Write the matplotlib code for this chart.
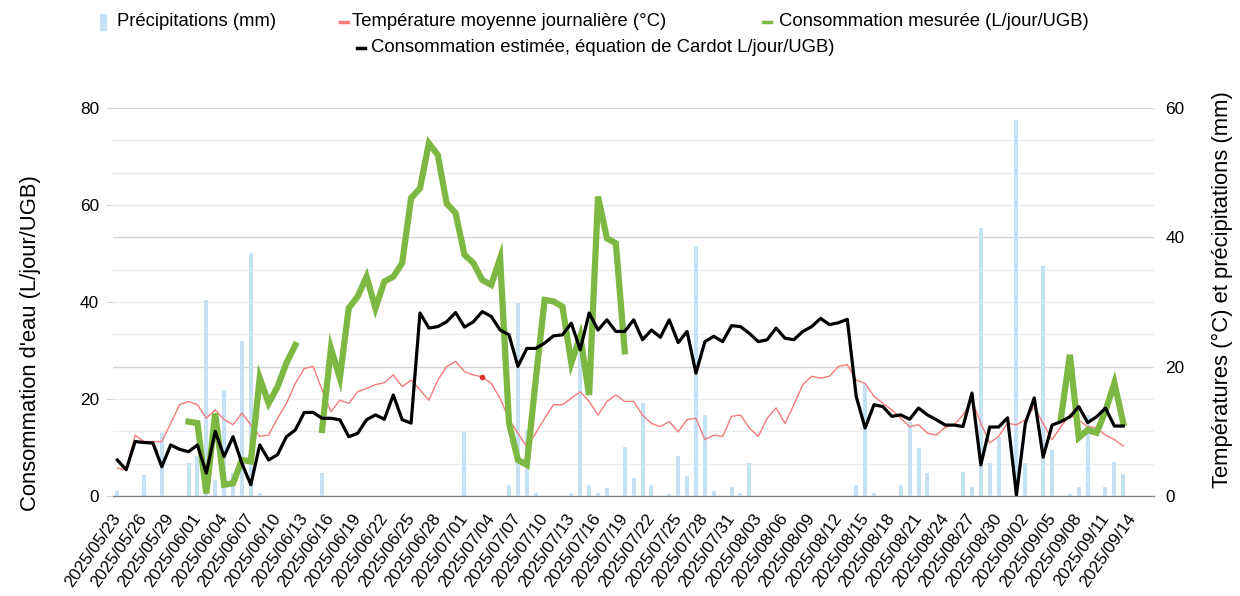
import numpy as np
import pandas as pd
import matplotlib.pyplot as plt
from matplotlib.lines import Line2D
from matplotlib.patches import Rectangle

plt.rcParams['font.family'] = ['Liberation Sans', 'DejaVu Sans']

# daily categories, 2025/05/23 .. 2025/09/16 (data stop at 09/13)
dates = pd.date_range('2025-05-23', '2025-09-16', freq='D')
labels = [d.strftime('%Y/%m/%d') for d in dates]

# estimated consumption (Cardot equation), L/jour/UGB
cons_est = [7.4, 5.4, 11.2, 11.0, 10.9, 6.0, 10.5, 9.6, 9.1, 10.5,
            4.7, 13.3, 8.1, 12.2, 6.7, 2.3, 10.5, 7.4, 8.5, 12.2,
            13.6, 17.2, 17.2, 16.0, 16.0, 15.7, 12.2, 12.9, 15.7, 16.7,
            15.8, 20.8, 15.7, 15.0, 37.7, 34.6, 34.9, 35.9, 37.8, 34.8,
            35.9, 38.0, 37.0, 34.2, 33.2, 26.7, 30.4, 30.4, 31.5, 33.0,
            33.2, 35.6, 30.1, 37.7, 34.2, 36.3, 33.9, 33.9, 36.3, 32.2,
            34.2, 32.7, 36.3, 31.6, 33.9, 25.3, 31.8, 32.9, 31.8, 35.1,
            34.9, 33.5, 31.8, 32.2, 34.6, 32.5, 32.2, 33.9, 34.9, 36.6,
            35.3, 35.7, 36.4, 20.5, 14.0, 18.8, 18.4, 16.4, 16.7, 15.8,
            18.1, 16.7, 15.7, 14.6, 14.6, 14.3, 21.2, 6.4, 14.2, 14.2,
            16.1, 0.2, 15.0, 20.2, 8.0, 14.6, 15.3, 16.3, 18.4, 15.1,
            16.3, 18.1, 14.4, 14.4]

# measured consumption, L/jour/UGB (NaN = no measure)
nan = np.nan
cons_mes = [nan, nan, nan, nan, nan, nan, nan, nan, 15.3, 15.0,
            0.5, 17.0, 2.3, 2.6, 7.4, 7.1, 24.3, 19.1, 22.5, 27.4,
            31.1, nan, nan, 13.6, 30.4, 24.3, 38.7, 41.1, 45.2, 38.7,
            44.2, 45.2, 48.0, 61.4, 63.4, 72.7, 70.3, 60.3, 58.3, 49.7,
            48.0, 44.5, 43.5, 49.0, 15.0, 7.4, 6.4, 23.9, 40.4, 40.1,
            39.0, 27.4, 32.9, 20.8, 61.7, 53.1, 52.1, 29.8, nan, nan,
            nan, nan, nan, nan, nan, nan, nan, nan, nan, nan,
            nan, nan, nan, nan, nan, nan, nan, nan, nan, nan,
            nan, nan, nan, nan, nan, nan, nan, nan, nan, nan,
            nan, nan, nan, nan, nan, nan, nan, nan, nan, nan,
            nan, nan, nan, nan, nan, nan, 16.0, 29.1, 12.0, 13.6,
            13.0, 17.5, 23.3, 15.0]

# mean daily temperature, °C
temp = [4.3, 4.0, 9.4, 8.4, 8.4, 8.4, 11.2, 14.1, 14.6, 14.1,
        12.0, 13.3, 11.8, 11.0, 12.8, 11.0, 9.2, 9.4, 12.0, 14.3,
        17.4, 19.7, 20.0, 16.4, 13.0, 14.8, 14.3, 16.1, 16.6, 17.2,
        17.5, 18.7, 16.9, 17.9, 16.4, 14.8, 17.9, 20.0, 20.8, 19.2,
        18.7, 18.4, 17.4, 15.1, 11.8, 9.7, 7.6, 9.7, 12.0, 14.1,
        14.1, 15.1, 16.1, 14.6, 12.5, 14.6, 15.6, 14.6, 14.6, 12.5,
        11.2, 10.7, 11.5, 9.9, 11.8, 12.0, 8.7, 9.4, 9.2, 12.3,
        12.5, 10.5, 9.2, 12.0, 13.6, 11.2, 14.1, 17.2, 18.5, 18.2,
        18.5, 20.0, 20.3, 17.9, 17.4, 15.4, 14.3, 13.3, 12.0, 10.7,
        11.0, 9.7, 9.4, 10.6, 11.0, 12.5, 14.8, 11.2, 8.2, 9.2,
        11.2, 11.0, 11.8, 13.8, 11.2, 8.7, 10.7, 12.5, 11.7, 10.7,
        10.5, 9.4, 8.7, 7.7]

# precipitation, mm
precip = [0.7, 0, 0, 3.2, 0, 9.7, 0, 0, 5.1, 6.1,
          30.3, 2.5, 16.4, 3.5, 23.9, 37.5, 0.4, 0, 0, 0,
          0, 0, 0, 3.5, 0, 0, 0, 0, 0, 0,
          0, 0, 0, 0, 0, 0, 0, 0, 0, 9.9,
          0, 0, 0, 0, 1.7, 29.8, 10.2, 0.4, 0, 0,
          0, 0.4, 22.1, 1.7, 0.4, 1.2, 0, 7.6, 2.7, 14.3,
          1.7, 0, 0.3, 6.1, 3.0, 38.6, 12.5, 0.7, 0, 1.4,
          0.4, 5.1, 0, 0, 0, 0, 0, 0, 0, 0,
          0, 0, 0, 1.7, 17.4, 0.4, 0, 0, 1.7, 11.5,
          7.4, 3.5, 0, 0, 0, 3.7, 1.4, 41.4, 5.1, 9.1,
          0, 58.2, 5.1, 0, 35.5, 7.1, 0, 0.3, 1.4, 12.5,
          0, 1.3, 5.3, 3.4]

x = np.arange(len(cons_est))

fig, ax = plt.subplots(figsize=(12.4, 5.96), dpi=100)
fig.subplots_adjust(left=0.091, right=0.931, top=0.819, bottom=0.168)
ax2 = ax.twinx()

# secondary axis: precipitation bars + temperature
ax2.bar(x, precip, width=0.45, color='#c6e0f4', zorder=2)
ax2.plot(x, temp, color='#f47b7b', lw=1.0, zorder=3)
ax2.plot(41, temp[41], 'o', color='#e03030', ms=3, zorder=4)
ax2.set_ylim(0, 60)
ax2.set_yticks([0, 20, 40, 60])
ax2.set_yticks(np.arange(0, 61, 5), minor=True)
ax2.grid(True, which='minor', axis='y', color='#ececec', lw=1.0, zorder=0)
ax2.grid(True, which='major', axis='y', color='#d4d4d4', lw=1.0, zorder=0)
ax2.tick_params(axis='y', which='both', length=0, labelsize=12.4, pad=8)

# primary axis: consumption lines (drawn above the secondary axis)
ax.set_zorder(ax2.get_zorder() + 1)
ax.patch.set_visible(False)
ax.plot(x, cons_mes, color='#7db843', lw=4.5, solid_joinstyle='miter', zorder=3)
ax.plot(x, cons_est, color='black', lw=2.3, zorder=4)
ax.set_ylim(0, 80)
ax.set_yticks([0, 20, 40, 60, 80])
ax.tick_params(axis='y', length=5, color='#d4d4d4', labelsize=12.4, pad=5)

ax.set_xlim(-0.5, len(dates) - 0.5)
tick_idx = np.arange(0, len(dates), 3)
ax.set_xticks(tick_idx)
ax.set_xticklabels([labels[i] for i in tick_idx], rotation=55, ha='right',
                   va='center', rotation_mode='anchor', fontsize=12.3)
ax.tick_params(axis='x', length=0, pad=14)

for a in (ax, ax2):
    for s in ('top', 'left', 'right'):
        a.spines[s].set_visible(False)
    a.spines['bottom'].set_color('#808080')

# axis titles
fig.text(31 / 1240, 1 - 343 / 596, "Consommation d'eau (L/jour/UGB)",
         rotation=90, ha='center', va='center', fontsize=15.8)
fig.text(1222 / 1240, 1 - 290 / 596, 'Températures (°C) et précipitations (mm)',
         rotation=90, ha='center', va='center', fontsize=15.8)

# legend, drawn by hand to keep the two-row layout
def leg_item(x0, x1, xt, y, text, color, kind):
    yf = 1 - y / 596
    if kind == 'bar':
        fig.add_artist(Rectangle((x0 / 1240, 1 - (y + 8) / 596), (x1 - x0) / 1240, 16 / 596,
                                 color=color, transform=fig.transFigure))
    else:
        fig.add_artist(Line2D([x0 / 1240, x1 / 1240], [yf, yf], color=color,
                              lw=2.5, transform=fig.transFigure))
    fig.text(xt / 1240, yf, text, fontsize=13.3, va='center', ha='left')

leg_item(100, 106, 117, 22, 'Précipitations (mm)', '#c6e0f4', 'bar')
leg_item(340, 348, 352, 22, 'Température moyenne journalière (°C)', '#f47b7b', 'line')
leg_item(763, 771, 779, 22, 'Consommation mesurée (L/jour/UGB)', '#7db843', 'line')
leg_item(357, 365, 371, 48, 'Consommation estimée, équation de Cardot L/jour/UGB)', 'black', 'line')

fig.savefig('out.png', dpi=100)
